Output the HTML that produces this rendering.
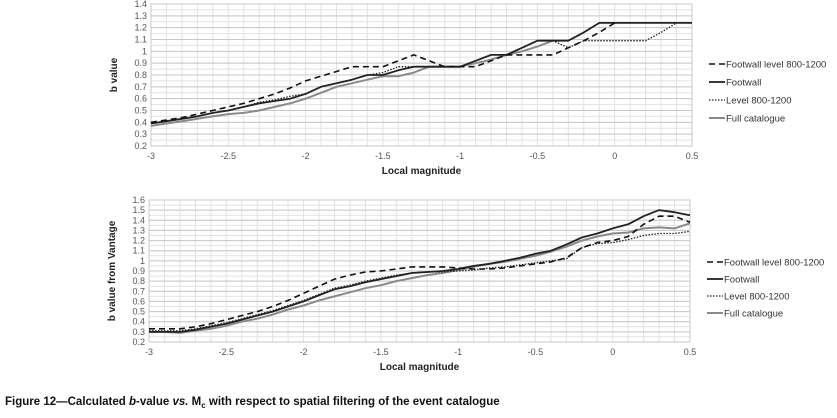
<!DOCTYPE html>
<html><head><meta charset="utf-8"><style>
html,body{margin:0;padding:0;background:#fff;width:837px;height:418px;overflow:hidden}
svg text{font-family:"Liberation Sans",sans-serif}
</style></head><body>
<svg id="fig" width="837" height="418" viewBox="0 0 837 418" xmlns="http://www.w3.org/2000/svg">
<text x="5" y="405" font-size="11.5" font-weight="bold" fill="#111">Figure 12—Calculated <tspan font-style="italic">b</tspan>-value <tspan font-style="italic">vs.</tspan> M<tspan font-size="8" dy="3">c</tspan><tspan dy="-3"> with respect to spatial filtering of the event catalogue</tspan></text>
</svg>
<script>
const xCats=[-3,-2.9,-2.8,-2.7,-2.6,-2.5,-2.4,-2.3,-2.2,-2.1,-2,-1.9,-1.8,-1.7,-1.6,-1.5,-1.4,-1.3,-1.2,-1.1,-1,-0.9,-0.8,-0.7,-0.6,-0.5,-0.4,-0.3,-0.2,-0.1,0,0.1,0.2,0.3,0.4,0.5];
const xTickLabels=[-3,-2.5,-2,-1.5,-1,-0.5,0,0.5];
const y1TickLabels=[0.2,0.3,0.4,0.5,0.6,0.7,0.8,0.9,1,1.1,1.2,1.3,1.4];
const y2TickLabels=[0.2,0.3,0.4,0.5,0.6,0.7,0.8,0.9,1,1.1,1.2,1.3,1.4,1.5,1.6];
const seriesNames=["Footwall level 800-1200","Footwall","Level 800-1200","Full catalogue"];
const c1FootwallLevel=[0.40,0.42,0.44,0.47,0.50,0.53,0.56,0.60,0.64,0.69,0.75,0.79,0.83,0.87,0.87,0.87,0.92,0.97,0.92,0.87,0.87,0.87,0.92,0.97,0.97,0.97,0.97,1.03,1.09,1.16,1.24,null,null,null,null,null];
const c1Footwall=[0.39,0.41,0.43,0.45,0.48,0.50,0.53,0.56,0.58,0.60,0.64,0.70,0.73,0.76,0.80,0.80,0.84,0.87,0.87,0.87,0.87,0.92,0.97,0.97,1.03,1.09,1.09,1.09,1.16,1.24,1.24,1.24,1.24,1.24,1.24,1.24];
const c1Level=[0.39,0.41,0.43,0.45,0.48,0.50,0.53,0.57,0.59,0.62,0.64,0.70,0.73,0.76,0.80,0.82,0.87,0.87,0.87,0.87,0.87,0.92,0.97,0.97,1.03,1.09,1.09,1.03,1.09,1.09,1.09,1.09,1.09,1.16,1.24,null];
const c1Full=[0.37,0.39,0.41,0.43,0.45,0.47,0.48,0.50,0.53,0.56,0.60,0.65,0.70,0.73,0.76,0.79,0.79,0.82,0.87,0.87,0.87,0.90,0.93,0.97,1.00,1.04,1.09,null,null,null,null,null,null,null,null,null];
const c2FootwallLevel=[0.33,0.33,0.33,0.35,0.38,0.42,0.46,0.50,0.55,0.61,0.68,0.75,0.82,0.86,0.89,0.90,0.92,0.94,0.94,0.94,0.93,0.92,0.92,0.93,0.95,0.97,0.99,1.03,1.13,1.18,1.20,1.24,1.36,1.44,1.44,1.38];
const c2Footwall=[0.30,0.30,0.30,0.32,0.35,0.38,0.42,0.46,0.50,0.55,0.60,0.66,0.72,0.75,0.79,0.82,0.85,0.88,0.89,0.90,0.92,0.95,0.97,1.00,1.03,1.07,1.10,1.16,1.23,1.27,1.32,1.36,1.44,1.50,1.48,1.45];
const c2Level=[0.31,0.31,0.31,0.33,0.36,0.39,0.43,0.47,0.51,0.56,0.61,0.67,0.73,0.76,0.80,0.83,0.86,0.88,0.89,0.89,0.90,0.91,0.93,0.94,0.96,0.98,1.00,1.02,1.13,1.17,1.18,1.21,1.25,1.27,1.27,1.29];
const c2Full=[0.30,0.30,0.29,0.31,0.33,0.36,0.40,0.43,0.47,0.52,0.56,0.61,0.65,0.69,0.73,0.76,0.80,0.83,0.86,0.88,0.91,0.94,0.97,0.99,1.02,1.05,1.09,1.14,1.20,1.24,1.27,1.28,1.32,1.33,1.32,1.37];

const NS="http://www.w3.org/2000/svg";
const svg=document.getElementById('fig');
function mk(tag,attrs,parent){const e=document.createElementNS(NS,tag);for(const k in attrs)e.setAttribute(k,attrs[k]);(parent||svg).appendChild(e);return e;}
const styles=[
 {stroke:"#111",w:1.6,dash:"6,4"},
 {stroke:"#222",w:1.8,dash:""},
 {stroke:"#222",w:1.3,dash:"1.5,1.5"},
 {stroke:"#8a8a8a",w:2,dash:""}];

function chart(cfg){
  const g=mk('g',{});
  
  
  const xs=v=>cfg.L+(v-(-3))/(3.5)*(cfg.R-cfg.L);
  const ys=v=>cfg.B-(v-cfg.ymin)/(cfg.ymax-cfg.ymin)*(cfg.B-cfg.T);
  // minor grid
  for(let v=-3;v<=0.5001;v+=0.1){const l=mk('line',{x1:xs(v),x2:xs(v),y1:cfg.T,y2:cfg.B,stroke:"#e2e2e2","stroke-width":1},g);
    }
  for(let v=cfg.ymin;v<=cfg.ymax+1e-6;v+=0.05){const l=mk('line',{x1:cfg.L,x2:cfg.R,y1:ys(v),y2:ys(v),stroke:"#e2e2e2","stroke-width":1},g);
    }
  cfg.yTicks.forEach(v=>{const l=mk('line',{x1:cfg.L,x2:cfg.R,y1:ys(v),y2:ys(v),stroke:"#c8c8c8","stroke-width":1},g);
    
    const t=mk('text',{x:cfg.L-4,y:ys(v)+3,"font-size":9,fill:"#555","text-anchor":"end"},g);t.textContent=v;
    });
  xTickLabels.forEach(v=>{const t=mk('text',{x:xs(v),y:cfg.B+13,"font-size":9,fill:"#555","text-anchor":"middle"},g);t.textContent=v;
    });
  const b=mk('rect',{x:cfg.L,y:cfg.T,width:cfg.R-cfg.L,height:cfg.B-cfg.T,fill:"none",stroke:"#c8c8c8"},g);
  
  const xt=mk('text',{x:(cfg.L+cfg.R)/2,y:cfg.B+28,"font-size":10,"font-weight":"bold",fill:"#222","text-anchor":"middle"},g);xt.textContent="Local magnitude";
  
  const cy=(cfg.T+cfg.B)/2;
  const yt=mk('text',{x:cfg.L-34,y:cy,"font-size":10,"font-weight":"bold",fill:"#222","text-anchor":"middle",transform:`rotate(-90 ${cfg.L-34} ${cy})`},g);yt.textContent=cfg.ytitle;
  
  [3,2,1,0].forEach(i=>{
    const data=cfg.series[i];let d="",pen=false;
    data.forEach((v,j)=>{if(v===null){pen=false;return;}d+=(pen?"L":"M")+xs(xCats[j]).toFixed(1)+","+ys(v).toFixed(1);pen=true;});
    const p=mk('path',{d:d,fill:"none",stroke:styles[i].stroke,"stroke-width":styles[i].w,"stroke-dasharray":styles[i].dash,"stroke-linejoin":"round"},g);
    
  });
  seriesNames.forEach((n,i)=>{
    const y=cfg.legY+i*cfg.legGap;
    const l=mk('line',{x1:cfg.legX,x2:cfg.legX+16,y1:y,y2:y,stroke:styles[i].stroke,"stroke-width":styles[i].w,"stroke-dasharray":styles[i].dash},g);
    
    const t=mk('text',{x:cfg.legX+17,y:y+3.5,"font-size":9.5,fill:"#333"},g);t.textContent=n;
    
  });
}
chart({name:'chart-b-value',L:151,R:692,T:4,B:146,ymin:0.2,ymax:1.4,yTicks:y1TickLabels,ytitle:"b value",
  series:[c1FootwallLevel,c1Footwall,c1Level,c1Full],legX:709,legY:64,legGap:18});
chart({name:'chart-b-value-vantage',L:149,R:690,T:200,B:342,ymin:0.2,ymax:1.6,yTicks:y2TickLabels,ytitle:"b value from Vantage",
  series:[c2FootwallLevel,c2Footwall,c2Level,c2Full],legX:707,legY:262,legGap:17});
</script>
</body></html>
